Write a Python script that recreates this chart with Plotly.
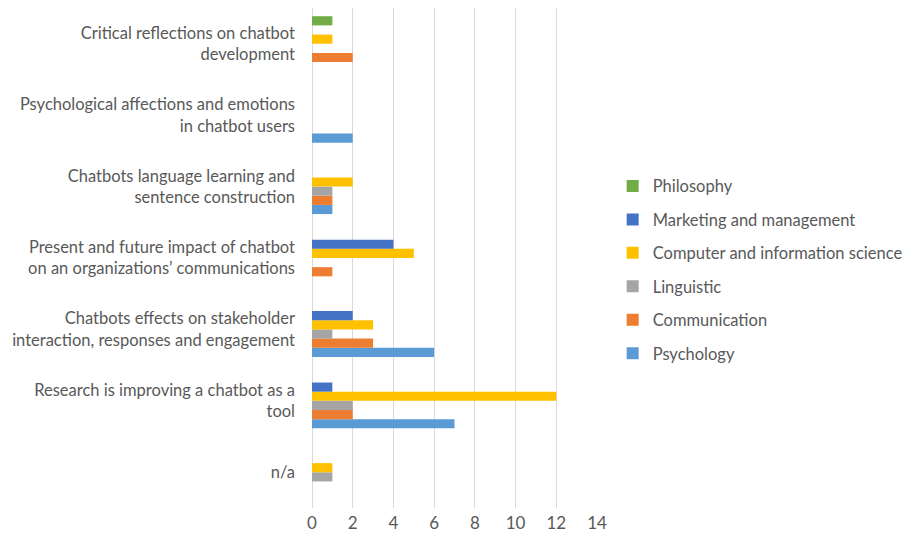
import plotly.graph_objects as go

categories = [
    "n/a",
    "Research is improving a chatbot as a<br>tool",
    "Chatbots effects on stakeholder<br>interaction, responses and engagement",
    "Present and future impact of chatbot<br>on an organizations’ communications",
    "Chatbots language learning and<br>sentence construction",
    "Psychological affections and emotions<br>in chatbot users",
    "Critical reflections on chatbot<br>development",
]

psychology = [0, 7, 6, 0, 1, 2, 0]
communication = [0, 2, 3, 1, 1, 0, 2]
linguistic = [1, 2, 1, 0, 1, 0, 0]
computer_science = [1, 12, 3, 5, 2, 0, 1]
marketing = [0, 1, 2, 4, 0, 0, 0]
philosophy = [0, 0, 0, 0, 0, 0, 1]

series = [
    ("Psychology", psychology, "#5B9BD5"),
    ("Communication", communication, "#ED7D31"),
    ("Linguistic", linguistic, "#A5A5A5"),
    ("Computer and information science", computer_science, "#FFC000"),
    ("Marketing and management", marketing, "#4472C4"),
    ("Philosophy", philosophy, "#70AD47"),
]

x_ticks = [0, 2, 4, 6, 8, 10, 12, 14]

fig = go.Figure()
n = len(series)
for i, (name, vals, color) in enumerate(series):
    fig.add_trace(go.Bar(
        y=categories, x=vals, name=name, orientation="h",
        marker=dict(color=color, line=dict(width=0)),
        legendgroup=f"g{i}",
        legendrank=100 + (n - i),
    ))

font_family = "Lato, 'Open Sans', sans-serif"
fig.update_layout(
    width=940, height=540,
    margin=dict(l=312, r=343, t=8, b=32),
    barmode="group",
    bargap=0.23,
    bargroupgap=0,
    plot_bgcolor="white",
    paper_bgcolor="white",
    font=dict(family=font_family, color="#595959", size=16.5),
    legend=dict(
        traceorder="grouped",
        tracegroupgap=9,
        x=1.055, xanchor="left",
        y=0.4766, yanchor="middle",
        font=dict(size=16.5, color="#595959"),
        bgcolor="rgba(0,0,0,0)",
    ),
    xaxis=dict(
        range=[0, 14], tickvals=x_ticks, ticktext=[str(v) for v in x_ticks],
        showgrid=True, gridcolor="#D9D9D9", gridwidth=1,
        zeroline=True, zerolinecolor="#D9D9D9", zerolinewidth=1,
        showline=False, ticks="", tickfont=dict(size=17, color="#595959"),
        ticklabelstandoff=3,
        automargin=False,
        fixedrange=True,
    ),
    yaxis=dict(
        categoryorder="array", categoryarray=categories,
        showgrid=False, zeroline=False, showline=False, ticks="",
        ticklen=0, tickfont=dict(size=16.5, color="#595959"),
        ticklabelstandoff=16,
        automargin=False,
    ),
)

fig.write_html(
    "out.html",
    config={"displayModeBar": False},
    post_script="document.body.style.margin='0px';document.body.style.overflow='hidden';",
)
